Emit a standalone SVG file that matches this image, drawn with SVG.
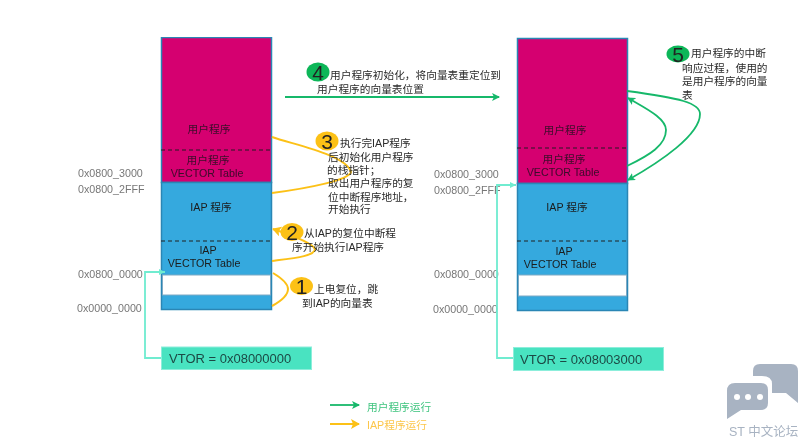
<svg xmlns="http://www.w3.org/2000/svg" width="806" height="447" viewBox="0 0 806 447">
<style>
text{font-family:"Liberation Sans","Noto Sans CJK SC",sans-serif;font-size:10.700px;fill:#2a2a2a}
.bl{fill:#34a9de;stroke:#2a86b5;stroke-width:1.5}
.pk{fill:#d5006f;stroke:#2a86b5;stroke-width:1.5}
.wh{fill:#fff;stroke:#7fa9c4;stroke-width:1}
.ds{stroke:#222;stroke-width:1;stroke-dasharray:4 3;fill:none}
.lb{fill:#1c1c1c;text-anchor:middle}
.pl{fill:#3a0a2a;text-anchor:middle}
.ad{fill:#777}
.g{fill:none;stroke:#15b86a;stroke-width:1.800}
.y{fill:none;stroke:#fcc118;stroke-width:2}
.c{fill:none;stroke:#6fecd0;stroke-width:1.800}
.vt{fill:#48e3c1;stroke:#8ceedb;stroke-width:1}
.vx{font-size:13px;fill:#1d4a45}
.n{font-size:21px;fill:#222;text-anchor:middle}
</style>
<defs>
<marker id="ag" markerWidth="9" markerHeight="9" refX="7" refY="4" orient="auto" markerUnits="userSpaceOnUse"><path d="M0 0L8 4L0 8L2 4z" fill="#15b86a"/></marker>
<marker id="ay" markerWidth="11" markerHeight="11" refX="8" refY="5" orient="auto" markerUnits="userSpaceOnUse"><path d="M0 0L9 5L0 10L2 5z" fill="#fcc118"/></marker>
<marker id="ac" markerWidth="7" markerHeight="7" refX="6" refY="3" orient="auto" markerUnits="userSpaceOnUse"><path d="M0 0L6 3L0 6z" fill="#6fecd0"/></marker>
<filter id="s" x="0" y="0" width="1" height="1"><feGaussianBlur stdDeviation="0.45"/></filter>
</defs>
<rect width="806" height="447" fill="#fff"/>
<g filter="url(#s)">
<g id="memory-left">
<rect class="pk" x="161.500" y="37.500" width="110" height="145"/>
<rect class="bl" x="161.500" y="182.500" width="110" height="127"/>
<rect class="wh" x="162.500" y="275" width="108" height="20"/>
<line class="ds" x1="161" y1="150" x2="272" y2="150"/>
<line class="ds" x1="161" y1="241" x2="272" y2="241"/>
<text class="pl" x="209" y="133">用户程序</text>
<text class="pl" x="208" y="164">用户程序</text>
<text class="pl" x="207" y="177">VECTOR Table</text>
<text class="lb" x="211" y="211">IAP 程序</text>
<text class="lb" x="208" y="254">IAP</text>
<text class="lb" x="204" y="267">VECTOR Table</text>
</g>
<g id="memory-right">
<rect class="pk" x="517.500" y="38.500" width="110" height="145"/>
<rect class="bl" x="517.500" y="183.500" width="110" height="127"/>
<rect class="wh" x="518.500" y="275" width="108" height="21"/>
<line class="ds" x1="517" y1="148" x2="628" y2="148"/>
<line class="ds" x1="517" y1="241" x2="628" y2="241"/>
<text class="pl" x="565" y="134">用户程序</text>
<text class="pl" x="564" y="163">用户程序</text>
<text class="pl" x="563" y="176">VECTOR Table</text>
<text class="lb" x="567" y="211">IAP 程序</text>
<text class="lb" x="564" y="255">IAP</text>
<text class="lb" x="560" y="268">VECTOR Table</text>
</g>
<g id="addresses">
<text class="ad" x="78" y="177">0x0800_3000</text>
<text class="ad" x="78" y="193">0x0800_2FFF</text>
<text class="ad" x="78" y="278">0x0800_0000</text>
<text class="ad" x="77" y="312">0x0000_0000</text>
<text class="ad" x="434" y="178">0x0800_3000</text>
<text class="ad" x="434" y="194">0x0800_2FFF</text>
<text class="ad" x="434" y="278">0x0800_0000</text>
<text class="ad" x="433" y="313">0x0000_0000</text>
</g>
<g id="connectors">
<path class="y" d="M272 137C295 145 346 155 351 172C349 180 310 188 272 193"/>
<path class="y" d="M272 261C295 258 315 256 315 249C312 242 285 233 273 229" marker-end="url(#ay)"/>
<path class="y" d="M272 306C283 300 288 294 288 289C288 284 283 279 273 273"/>
<path class="g" d="M285 97H499" marker-end="url(#ag)"/>
<path class="g" d="M627 91C680 98 700 103 700 114C700 135 660 162 628 180" marker-end="url(#ag)"/>
<path class="g" d="M627 166C650 155 666 145 666 130C666 118 645 108 628 98" marker-end="url(#ag)"/>
<path class="c" d="M161 358H145V272H165" marker-end="url(#ac)"/>
<path class="c" d="M513 358H497V185H516" marker-end="url(#ac)"/>
<path class="g" d="M330 405H359" marker-end="url(#ag)"/>
<path class="y" d="M330 424H359" marker-end="url(#ay)"/>
</g>
<g id="vtor-left"><rect class="vt" x="161.500" y="347" width="150" height="22.500"/><text class="vx" x="169" y="363">VTOR = 0x08000000</text></g>
<g id="vtor-right"><rect class="vt" x="513.500" y="347.500" width="150" height="23"/><text class="vx" x="520" y="364">VTOR = 0x08003000</text></g>
<g id="step-1"><ellipse cx="301.500" cy="286" rx="11.500" ry="9" fill="#fcc118"/><text class="n" x="301.500" y="293.500">1</text><text x="314" y="293">上电复位，跳</text><text x="302" y="307">到IAP的向量表</text></g>
<g id="step-2"><ellipse cx="292" cy="232" rx="11.500" ry="9" fill="#fcc118"/><text class="n" x="292" y="239.500">2</text><text x="304" y="237">从IAP的复位中断程</text><text x="292" y="251">序开始执行IAP程序</text></g>
<g id="step-3"><ellipse cx="327" cy="141" rx="11.500" ry="9.500" fill="#fcc118"/><text class="n" x="327" y="148.500">3</text><text x="340" y="147">执行完IAP程序</text><text x="328" y="161">后初始化用户程序</text><text x="327" y="174">的栈指针；</text><text x="328" y="187">取出用户程序的复</text><text x="328" y="201">位中断程序地址，</text><text x="328" y="213">开始执行</text></g>
<g id="step-4"><ellipse cx="318" cy="72" rx="11.500" ry="9.500" fill="#0cb658"/><text class="n" x="318" y="79.500">4</text><text x="330" y="79">用户程序初始化，将向量表重定位到</text><text x="317" y="93">用户程序的向量表位置</text></g>
<g id="step-5"><ellipse cx="678" cy="54" rx="11.500" ry="8.500" fill="#0cb658"/><text class="n" x="678" y="61.500">5</text><text x="691" y="57">用户程序的中断</text><text x="682" y="72">响应过程，使用的</text><text x="682" y="85">是用户程序的向量</text><text x="682" y="99">表</text></g>
<g id="legend"><text x="367" y="411" style="fill:#3fc47f">用户程序运行</text><text x="367" y="429" style="fill:#fcc64a">IAP程序运行</text></g>
<g id="logo">
<path d="M760 364H791Q798 364 798 371V403L786 393H772V384Q772 376 762 376H753V371Q753 364 760 364Z" fill="#a8b3c2"/>
<path d="M735 383H761Q768 383 768 390V403Q768 410 761 410H741L727 419V391Q727 383 735 383Z" fill="#a8b3c2"/>
<circle cx="737" cy="397" r="3" fill="#fff"/><circle cx="748" cy="397" r="3" fill="#fff"/><circle cx="760" cy="397" r="3" fill="#fff"/>
<text x="729" y="436" style="font-size:12.500px;fill:#a8b3c2">ST 中文论坛</text>
</g>
</g>
</svg>
